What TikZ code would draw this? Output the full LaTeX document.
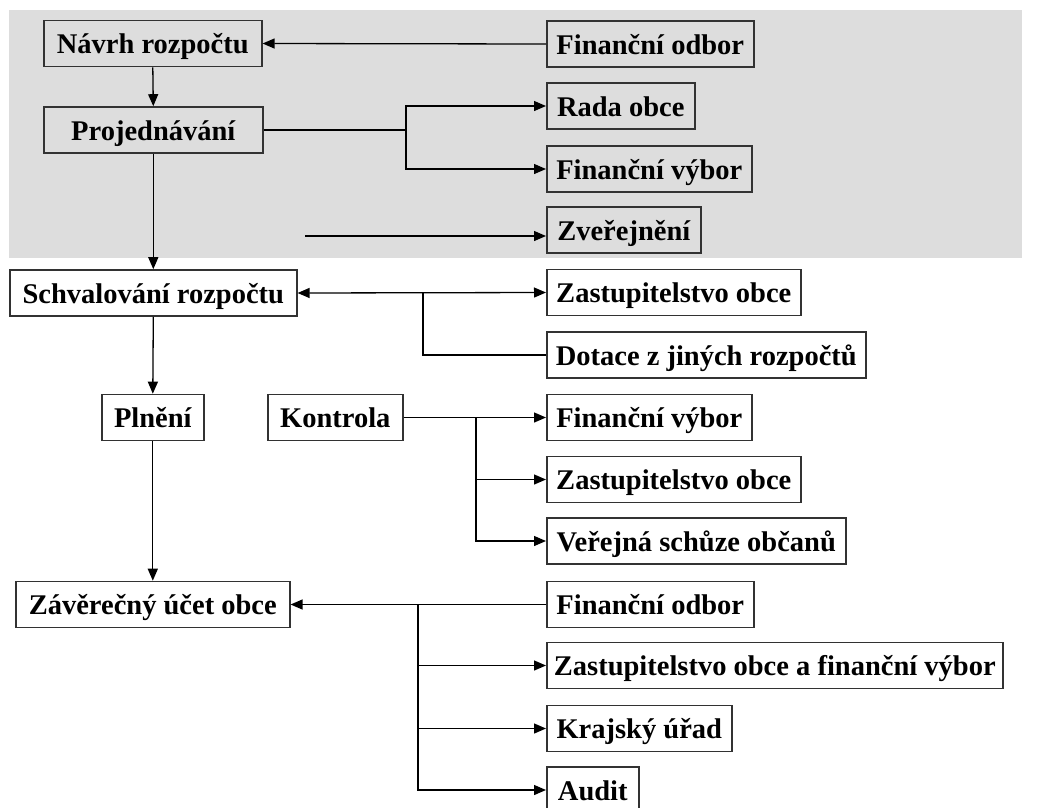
\documentclass[tikz,border=0pt]{standalone}
\usepackage{fontspec}
\setmainfont{Liberation Serif}
\usetikzlibrary{arrows.meta}
\definecolor{bggray}{RGB}{221,221,221}
\definecolor{boxline}{RGB}{50,50,50}
\begin{document}
\begin{tikzpicture}[x=1pt,y=-1pt,
  box/.style={draw=boxline,line width=1.6pt,anchor=west,minimum height=46pt,inner sep=1pt,
    text height=26pt,text depth=6pt,
    font=\fontsize{28.5}{32}\selectfont\bfseries,text=black},
  conn/.style={line width=1.3pt,draw=black},
  arr/.style={conn,-{Triangle[length=12pt,width=10pt]}},
  arrtwo/.style={conn,{Triangle[length=12pt,width=10pt]}-{Triangle[length=12pt,width=10pt]}}]
\useasboundingbox (0,0) rectangle (1037,807);
\fill[bggray] (9,10) rectangle (1022,258);

% nodes
\node[box,minimum width=218pt] (navrh) at (43,43.5) {Návrh rozpočtu};
\node[box,minimum width=219pt] (projed) at (43,130) {Projednávání};
\node[box,minimum width=207pt] (finodb1) at (546,44) {Finanční odbor};
\node[box,minimum width=148pt] (rada) at (546,106) {Rada obce};
\node[box,minimum width=205pt] (finvyb1) at (546,169) {Finanční výbor};
\node[box,minimum width=154pt] (zver) at (546,230) {Zveřejnění};
\node[box,minimum width=287pt] (schval) at (9,293) {Schvalování rozpočtu};
\node[box,minimum width=254pt] (zast1) at (546,292.5) {Zastupitelstvo obce};
\node[box,minimum width=319pt] (dotace) at (546,355) {Dotace z jiných rozpočtů};
\node[box,minimum width=102pt] (plneni) at (101,417.5) {Plnění};
\node[box,minimum width=135pt] (kontrola) at (267,417.5) {Kontrola};
\node[box,minimum width=205pt] (finvyb2) at (546,417.5) {Finanční výbor};
\node[box,minimum width=254pt] (zast2) at (546,479.5) {Zastupitelstvo obce};
\node[box,minimum width=299pt] (verejna) at (546,541) {Veřejná schůze občanů};
\node[box,minimum width=274pt] (zaver) at (15,604.5) {Závěrečný účet obce};
\node[box,minimum width=207pt] (finodb3) at (546,604.5) {Finanční odbor};
\node[box,minimum width=456pt] (zastfin) at (546,665.5) {Zastupitelstvo obce a finanční výbor};
\node[box,minimum width=185pt] (kraj) at (546,728.5) {Krajský úřad};
\node[box,minimum width=92pt] (audit) at (546,790) {Audit};

% junction coordinates
\coordinate (pj) at (406,130);
\coordinate (zs) at (305,236);
\coordinate (dj) at (423,293);
\coordinate (kj) at (476,417.5);
\coordinate (zj) at (418,604.5);

% connectors
\draw[arr] (finodb1.west) -- (navrh.east);
\draw[arr] (navrh.south) -- (projed.north);
\draw[conn] (projed.east) -- (pj);
\draw[arr] (pj) |- (rada.west);
\draw[arr] (pj) |- (finvyb1.west);
\draw[arr] (zs) -- (zs -| zver.west);
\draw[arr] (projed.south) -- (projed.south |- schval.north);
\draw[arrtwo] (schval.east) -- (zast1.west);
\draw[conn] (dotace.west) -| (dj);
\draw[arr] (schval.south) -- (plneni.north);
\draw[arr] (kontrola.east) -- (finvyb2.west);
\draw[arr] (kj) |- (zast2.west);
\draw[arr] (kj) |- (verejna.west);
\draw[arr] (plneni.south) -- (plneni.south |- zaver.north);
\draw[arr] (finodb3.west) -- (zaver.east);
\draw[arr] (zj) |- (zastfin.west);
\draw[arr] (zj) |- (kraj.west);
\draw[arr] (zj) |- (audit.west);
\end{tikzpicture}
\end{document}
